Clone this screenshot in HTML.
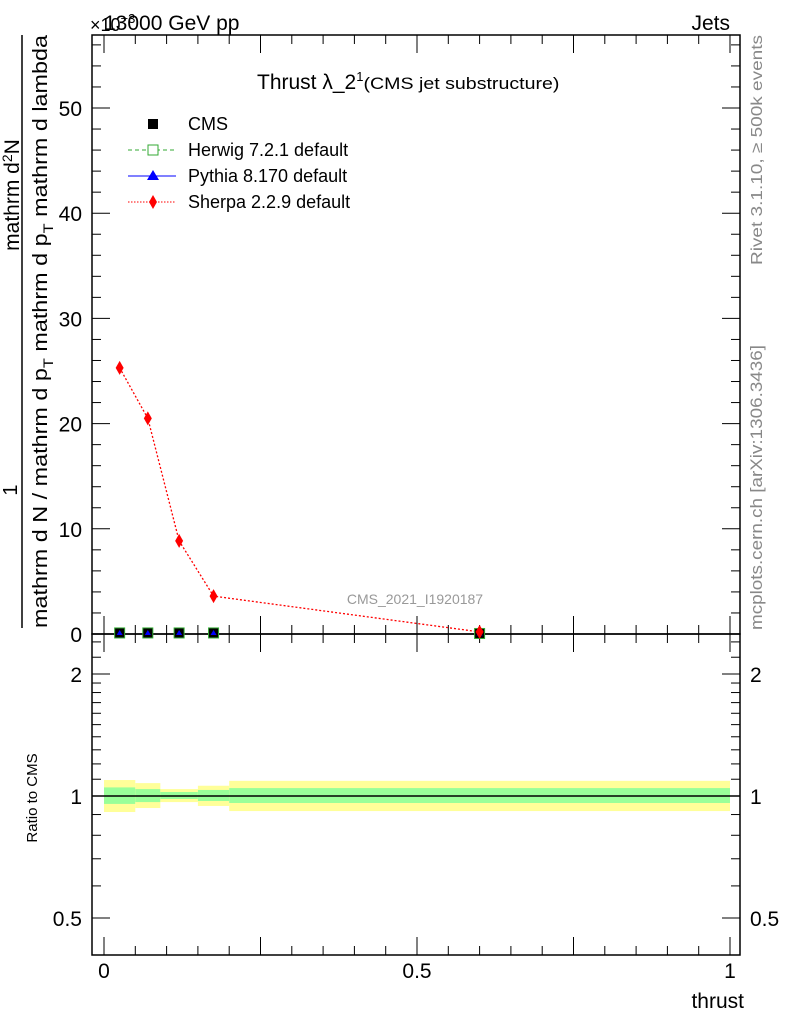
<!DOCTYPE html>
<html><head><meta charset="utf-8"><style>
body{margin:0;background:#fff}
svg{display:block;font-family:"Liberation Sans",sans-serif}
</style></head><body>
<svg id="c" width="786" height="1024" viewBox="0 0 786 1024" xmlns="http://www.w3.org/2000/svg">
<rect x="0" y="0" width="786" height="1024" fill="#fff"/>
<g id="bands"></g>
<g id="axes"></g>
<g id="series"></g>
<text x="104" y="30" font-size="21">13000 GeV pp</text>
<text x="90" y="31" font-size="18">×10<tspan font-size="13" dy="-8">−3</tspan></text>
<text x="730" y="30" font-size="21" text-anchor="end">Jets</text>
<text x="257" y="89" font-size="21">Thrust λ_2<tspan font-size="13" dy="-8">1</tspan><tspan font-size="17" dy="8" textLength="196" lengthAdjust="spacingAndGlyphs">(CMS jet substructure)</tspan></text>
<text x="415" y="604" font-size="14" fill="#999" text-anchor="middle">CMS_2021_I1920187</text>
<text x="744" y="1008" font-size="21" text-anchor="end">thrust</text>
<text transform="translate(37,798) rotate(-90)" font-size="15" text-anchor="middle">Ratio to CMS</text>
<g font-size="20">
<text transform="translate(17,490) rotate(-90)" text-anchor="middle">1</text>
<text transform="translate(19,195) rotate(-90)" text-anchor="middle" font-size="21">mathrm d<tspan font-size="14" dy="-7">2</tspan><tspan dy="7">N</tspan></text>
<line x1="22" y1="628" x2="22" y2="35" stroke="#000" stroke-width="1.5"/>
<text transform="translate(47,628) rotate(-90)" textLength="593" lengthAdjust="spacingAndGlyphs">mathrm d N / mathrm d p<tspan font-size="14" dy="6">T</tspan><tspan dy="-6"> mathrm d p</tspan><tspan font-size="14" dy="6">T</tspan><tspan dy="-6"> mathrm d lambda</tspan></text>
</g>
<text transform="translate(762,265) rotate(-90)" font-size="16" fill="#888" textLength="230" lengthAdjust="spacingAndGlyphs">Rivet 3.1.10, ≥ 500k events</text>
<text transform="translate(762,630) rotate(-90)" font-size="16.5" fill="#888" textLength="285" lengthAdjust="spacingAndGlyphs">mcplots.cern.ch [arXiv:1306.3436]</text>
<g font-size="18">
<g><rect x="148" y="119" width="10" height="10" fill="#000"/><text x="188" y="130">CMS</text></g>
<g><line x1="128" y1="150" x2="176" y2="150" stroke="#3a3" stroke-dasharray="4,3"/><rect x="148" y="145" width="10" height="10" fill="#fff" stroke="#3a3"/><text x="188" y="156">Herwig 7.2.1 default</text></g>
<g><line x1="128" y1="176" x2="176" y2="176" stroke="#00f"/><path d="M153,170 L159,180 L147,180Z" fill="#00f"/><text x="188" y="182">Pythia 8.170 default</text></g>
<g><line x1="128" y1="202" x2="176" y2="202" stroke="#f00" stroke-dasharray="1.5,1.5"/><path d="M153,195 L157,202 L153,209 L149,202Z" fill="#f00"/><text x="188" y="208">Sherpa 2.2.9 default</text></g>
</g>
</svg>
<script>
const edges=[0,0.05,0.09,0.15,0.2,1.0];
const centers=[0.025,0.07,0.12,0.175,0.6];
const cmsVals=[0.1,0.1,0.1,0.1,0.05];
const sherpaVals=[25.3,20.5,8.85,3.6,0.2];
const yellowHi=[1.095,1.076,1.04,1.06,1.09];
const yellowLo=[0.913,0.934,0.966,0.945,0.918];
const greenHi=[1.05,1.04,1.023,1.035,1.046];
const greenLo=[0.956,0.966,0.983,0.972,0.961];
const mainTicks=[0,10,20,30,40,50];
const ratioTicks=[0.5,1,2];
const xTicks=[0,0.5,1];
const NS='http://www.w3.org/2000/svg';
const X=v=>104+626*v;
const Y=v=>634-10.52*v;
const R=v=>796-122*Math.log2(v);
function mk(p,t,a){const e=document.createElementNS(NS,t);for(const k in a)e.setAttribute(k,a[k]);p.appendChild(e);return e;}
const bands=document.getElementById('bands'),axes=document.getElementById('axes'),ser=document.getElementById('series');
for(let i=0;i<centers.length;i++){
 const x0=X(edges[i]),x1=X(edges[i+1]);
 const y=mk(bands,'rect',{x:x0,y:R(yellowHi[i]),width:x1-x0,height:R(yellowLo[i])-R(yellowHi[i]),fill:'#ffff99'});
 
 
 const g=mk(bands,'rect',{x:x0,y:R(greenHi[i]),width:x1-x0,height:R(greenLo[i])-R(greenHi[i]),fill:'#99ff99'});
 
 
}
mk(axes,'line',{x1:92,y1:R(1),x2:740,y2:R(1),stroke:'#000','stroke-width':1.5});
mk(axes,'rect',{x:92,y:35,width:648,height:599,fill:'none',stroke:'#000','stroke-width':1.5});
mk(axes,'rect',{x:92,y:634,width:648,height:321,fill:'none',stroke:'#000','stroke-width':1.5});
for(const t of mainTicks){const y=Y(t);
 mk(axes,'line',{x1:92,y1:y,x2:110,y2:y,stroke:'#000'});mk(axes,'line',{x1:722,y1:y,x2:740,y2:y,stroke:'#000'});
 const tx=mk(axes,'text',{x:82,y:y+8,'font-size':21,'text-anchor':'end'});tx.textContent=t;
 for(let k=1;k<5;k++){const ym=Y(t+2*k);if(ym<35)break;mk(axes,'line',{x1:92,y1:ym,x2:101,y2:ym,stroke:'#000'});mk(axes,'line',{x1:731,y1:ym,x2:740,y2:ym,stroke:'#000'});}
}
for(const t of ratioTicks){const y=R(t);
 mk(axes,'line',{x1:92,y1:y,x2:110,y2:y,stroke:'#000'});mk(axes,'line',{x1:722,y1:y,x2:740,y2:y,stroke:'#000'});
 const a=mk(axes,'text',{x:82,y:y+8,'font-size':21,'text-anchor':'end'});a.textContent=t;
 const b=mk(axes,'text',{x:750,y:y+8,'font-size':21});b.textContent=t;
}
for(const m of [0.5,0.6,0.7,0.8,0.9,1.1,1.2,1.3,1.4,1.5,1.6,1.7,1.8,1.9,2.2,2.4]){const y=R(m);mk(axes,'line',{x1:92,y1:y,x2:101,y2:y,stroke:'#000'});mk(axes,'line',{x1:731,y1:y,x2:740,y2:y,stroke:'#000'});}
for(let i=0;i<=20;i++){const v=i*0.05,x=X(v),big=i%5==0?18:9;
 mk(axes,'line',{x1:x,y1:634,x2:x,y2:634-big,stroke:'#000'});mk(axes,'line',{x1:x,y1:35,x2:x,y2:35+big,stroke:'#000'});
 mk(axes,'line',{x1:x,y1:955,x2:x,y2:955-big,stroke:'#000'});mk(axes,'line',{x1:x,y1:634,x2:x,y2:634+big,stroke:'#000'});}
for(const t of xTicks){const tx=mk(axes,'text',{x:X(t),y:978,'font-size':21,'text-anchor':'middle'});tx.textContent=t;}
const pl=mk(ser,'polyline',{points:centers.map((c,i)=>X(c)+','+Y(sherpaVals[i])).join(' '),fill:'none',stroke:'#f00','stroke-dasharray':'2,2','stroke-width':1.3});


centers.forEach((c,i)=>{
 const x=X(c),y=Y(cmsVals[i]);
 const r=mk(ser,'rect',{x:x-5,y:y-5,width:10,height:10,fill:'#000',stroke:'#3a3'});
 
 
 mk(ser,'path',{d:`M${x},${y-3} L${x+3},${y+2} L${x-3},${y+2}Z`,fill:'#00f'});
 const ys=Y(sherpaVals[i]);
 const d=mk(ser,'path',{d:`M${x},${ys-7} L${x+4},${ys} L${x},${ys+7} L${x-4},${ys}Z`,fill:'#f00'});
 
 
});
</script>
</body></html>
